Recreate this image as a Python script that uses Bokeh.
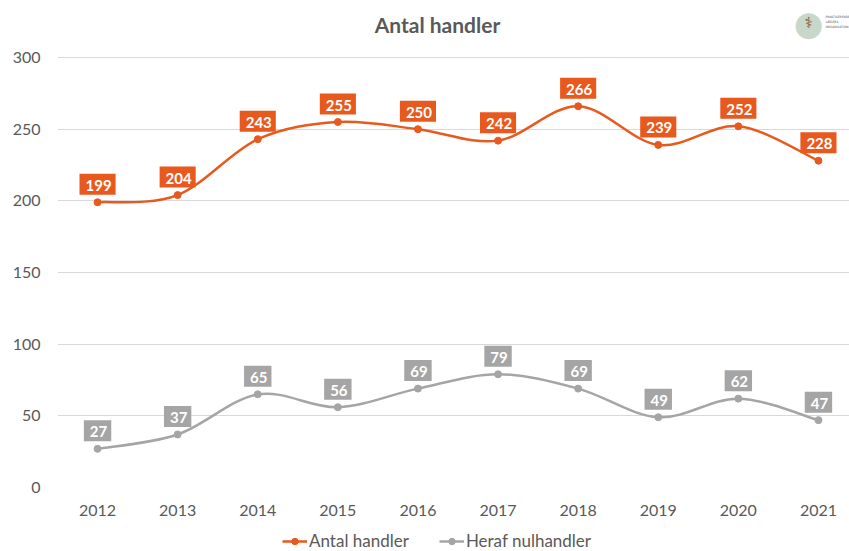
import numpy as np
from bokeh.plotting import figure
from bokeh.layouts import column
from bokeh.models import (ColumnDataSource, Range1d, FixedTicker, Label,
                          Legend, LegendItem)
from bokeh.core.properties import value
from bokeh.embed import file_html
from bokeh.resources import INLINE

years = [2012, 2013, 2014, 2015, 2016, 2017, 2018, 2019, 2020, 2021]
antal = [199, 204, 243, 255, 250, 242, 266, 239, 252, 228]
nul = [27, 37, 65, 56, 69, 79, 69, 49, 62, 47]
y_ticks = [0, 50, 100, 150, 200, 250, 300]
title_text = "Antal handler"
series_names = ["Antal handler", "Heraf nulhandler"]

ORANGE = "#E8591E"
GRAY = "#A5A5A5"
TXT = "#595959"
FONT = "Lato"

W = 849
MAIN_H, LEG_H = 521, 30
LEFT, BOTTOM = 57, 34
frame_h = MAIN_H - BOTTOM
y_end = 300 * frame_h / (frame_h - 57)
x_start = 2011.5
x_end = x_start + (W - LEFT) / 80.1

p = figure(width=W, height=MAIN_H, output_backend="svg", toolbar_location=None,
           x_range=Range1d(x_start, x_end), y_range=Range1d(0, y_end),
           min_border_left=LEFT, min_border_right=0, min_border_top=0,
           min_border_bottom=BOTTOM)
p.outline_line_color = None
p.background_fill_color = "white"
p.border_fill_color = "white"

p.yaxis.ticker = FixedTicker(ticks=y_ticks)
p.xaxis.ticker = FixedTicker(ticks=years)
p.xgrid.grid_line_color = None
p.ygrid.grid_line_color = "#D9D9D9"
p.ygrid.grid_line_width = 1
for ax in (p.xaxis, p.yaxis):
    ax.axis_line_color = None
    ax.major_tick_line_color = None
    ax.minor_tick_line_color = None
    ax.major_tick_out = 0
    ax.major_tick_in = 0
    ax.minor_tick_out = 0
    ax.major_label_text_font = FONT
    ax.major_label_text_font_size = "16px"
    ax.major_label_text_color = TXT
p.yaxis.major_label_standoff = 17
p.xaxis.major_label_standoff = 17


def smooth(xs, ys):
    x = np.asarray(xs, float)
    y = np.asarray(ys, float)
    xp = np.concatenate([[x[0]], x, [x[-1]]])
    yp = np.concatenate([[y[0]], y, [y[-1]]])
    n = len(x)
    i = np.arange(n - 1)
    cx0 = x[i] + (xp[i + 2] - xp[i]) / 6
    cy0 = y[i] + (yp[i + 2] - yp[i]) / 6
    cx1 = x[i + 1] - (xp[i + 3] - xp[i + 1]) / 6
    cy1 = y[i + 1] - (yp[i + 3] - yp[i + 1]) / 6
    return dict(x0=x[:-1], y0=y[:-1], x1=x[1:], y1=y[1:],
                cx0=cx0, cy0=cy0, cx1=cx1, cy1=cy1)


for vals, col in ((antal, ORANGE), (nul, GRAY)):
    bz = ColumnDataSource(smooth(years, vals))
    p.bezier("x0", "y0", "x1", "y1", "cx0", "cy0", "cx1", "cy1", source=bz,
             line_color=col, line_width=2.5)
    src = ColumnDataSource(dict(x=years, y=vals, t=[str(v) for v in vals]))
    p.scatter("x", "y", source=src, size=7, fill_color=col, line_color=col)
    p.text("x", "y", text="t", source=src, y_offset=-18,
           text_align="center", text_baseline="middle",
           text_font=value(FONT), text_font_style="bold", text_font_size="15px",
           text_color="white", background_fill_color=col, padding=(6, 4, 6, 4))

p.add_layout(Label(x=437 - LEFT, y=frame_h - 24, x_units="screen", y_units="screen",
                   text=title_text, text_align="center", text_baseline="middle",
                   text_font=FONT, text_font_style="bold", text_font_size="21px",
                   text_color=TXT))
# logo
p.add_layout(Label(x=808 - LEFT, y=frame_h - 22, x_units="screen", y_units="screen",
                   text="\u25CF", text_align="center", text_baseline="middle",
                   text_font="DejaVu Sans", text_font_size="34px", text_color="#C7D8CB"))
p.add_layout(Label(x=808 - LEFT, y=frame_h - 22, x_units="screen", y_units="screen",
                   text="\u2695", text_align="center", text_baseline="middle",
                   text_font="DejaVu Sans", text_font_size="15px", text_color="#7A4B2A"))
for k, t in enumerate(["PRAKTISERENDE", "LÆGERS", "ORGANISATION"]):
    p.add_layout(Label(x=825 - LEFT, y=frame_h - 16 - 5 * k, x_units="screen", y_units="screen",
                       text=t, text_align="left", text_baseline="middle",
                       text_font="DejaVu Sans", text_font_size="3px", text_color="#555555"))

# legend strip
lg = figure(width=W, height=LEG_H, output_backend="svg", toolbar_location=None,
            x_range=Range1d(0, 1), y_range=Range1d(0, 1),
            min_border=0, min_border_left=0, min_border_right=0,
            min_border_top=0, min_border_bottom=0)
lg.axis.visible = False
lg.grid.visible = False
lg.outline_line_color = None
items = []
for col, name in ((ORANGE, series_names[0]), (GRAY, series_names[1])):
    rl = lg.line(x=[-5, -4], y=[-5, -4], line_color=col, line_width=2.5)
    rs = lg.scatter(x=[-5], y=[-5], size=7, fill_color=col, line_color=col)
    items.append(LegendItem(label=name, renderers=[rl, rs]))
legend = Legend(items=items, orientation="horizontal", location=(225, 0),
                label_text_font=FONT, label_text_font_size="17px",
                label_text_color=TXT, border_line_color=None,
                background_fill_alpha=0, padding=0, margin=0, spacing=30,
                glyph_width=25, glyph_height=16, label_height=16, label_standoff=2)
lg.add_layout(legend)

layout = column(p, lg, spacing=0)
open("out.html", "w").write(file_html(layout, INLINE))
